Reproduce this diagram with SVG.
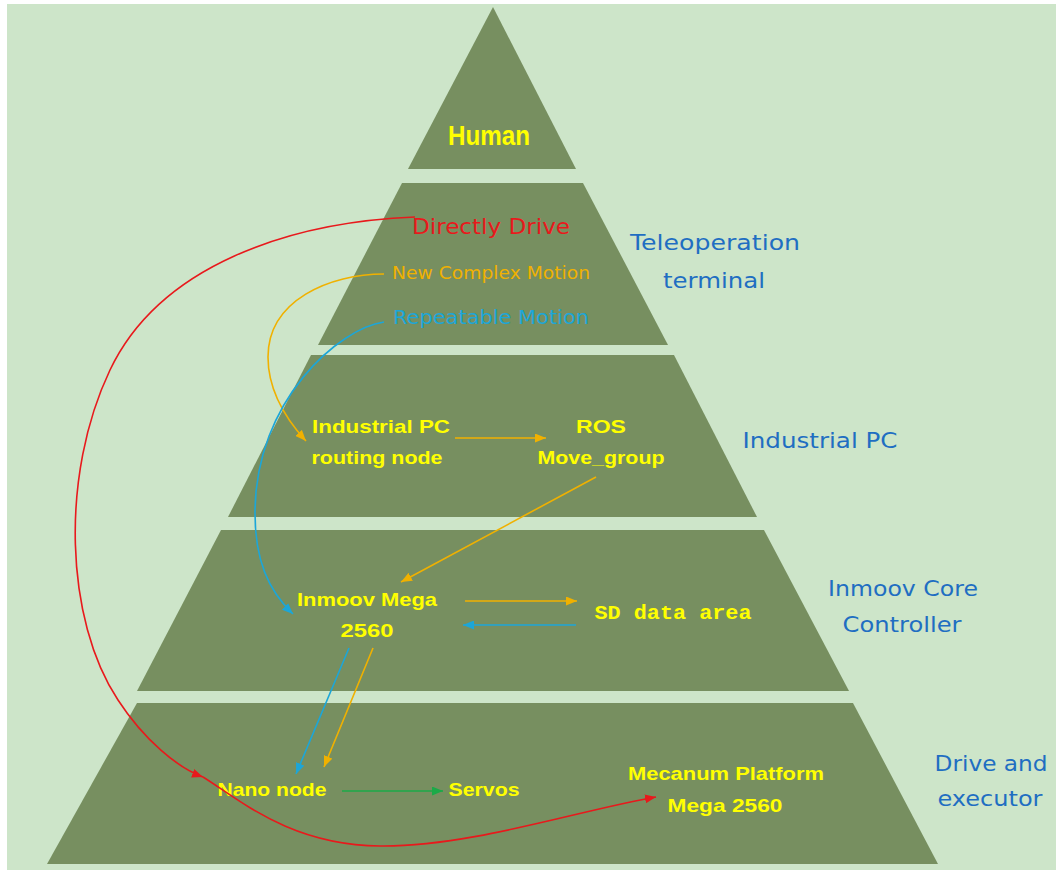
<svg xmlns="http://www.w3.org/2000/svg" width="1056" height="870" viewBox="0 0 1056 870">
<defs>
<style>
.tier{fill:#778F60;}
.lbl{font-family:"Liberation Sans","DejaVu Sans",sans-serif;font-weight:bold;fill:#FFFF00;text-anchor:middle;}
.side{font-family:"DejaVu Sans","Liberation Sans",sans-serif;fill:#1F6EC2;text-anchor:middle;font-size:22px;}
.mono{font-family:"Liberation Mono","DejaVu Sans Mono",monospace;font-weight:bold;fill:#FFFF00;text-anchor:middle;}
.c{fill:none;stroke-width:1.6;}
.red{stroke:#E8191C;}
.org{stroke:#F0B100;}
.blu{stroke:#1CA6D8;}
.grn{stroke:#1BAA48;}
</style>
<marker id="aRed" markerUnits="userSpaceOnUse" markerWidth="11" markerHeight="9" refX="11" refY="4.5" orient="auto"><path d="M0,0 L11,4.5 L0,9 z" fill="#E8191C"/></marker>
<marker id="aOrg" markerUnits="userSpaceOnUse" markerWidth="11" markerHeight="9" refX="11" refY="4.5" orient="auto"><path d="M0,0 L11,4.5 L0,9 z" fill="#F0B100"/></marker>
<marker id="aBlu" markerUnits="userSpaceOnUse" markerWidth="11" markerHeight="9" refX="11" refY="4.5" orient="auto"><path d="M0,0 L11,4.5 L0,9 z" fill="#1CA6D8"/></marker>
<marker id="aGrn" markerUnits="userSpaceOnUse" markerWidth="11" markerHeight="9" refX="11" refY="4.5" orient="auto"><path d="M0,0 L11,4.5 L0,9 z" fill="#1BAA48"/></marker>
</defs>
<rect x="0" y="0" width="1056" height="870" fill="#FFFFFF"/>
<rect x="7" y="4" width="1049" height="866" fill="#CDE5C9"/>

<g id="tier-human">
<polygon class="tier" points="493,7 576,169 408,169"/>
<text class="lbl" x="489" y="145" font-size="28" textLength="82" lengthAdjust="spacingAndGlyphs">Human</text>
</g>

<g id="tier-teleoperation">
<polygon class="tier" points="402,183 583,183 668,345 318,345"/>
<text x="491" y="234" font-family="DejaVu Sans, Liberation Sans, sans-serif" font-size="21" fill="#E8191C" text-anchor="middle" textLength="158" lengthAdjust="spacingAndGlyphs">Directly Drive</text>
<text x="491" y="279" font-family="DejaVu Sans, Liberation Sans, sans-serif" font-size="17" fill="#F0B100" text-anchor="middle" textLength="198" lengthAdjust="spacingAndGlyphs">New Complex Motion</text>
<text x="491" y="324" font-family="DejaVu Sans, Liberation Sans, sans-serif" font-size="19" fill="#1CA6D8" text-anchor="middle" textLength="196" lengthAdjust="spacingAndGlyphs">Repeatable Motion</text>
<text class="side" x="715" y="250" font-size="23" textLength="170" lengthAdjust="spacingAndGlyphs">Teleoperation</text>
<text class="side" x="714" y="288" font-size="23" textLength="102" lengthAdjust="spacingAndGlyphs">terminal</text>
</g>

<g id="tier-industrial-pc">
<polygon class="tier" points="311,355 674,355 757,517 228,517"/>
<text class="lbl" x="381" y="433" font-size="19" textLength="138" lengthAdjust="spacingAndGlyphs">Industrial PC</text>
<text class="lbl" x="377" y="464" font-size="19" textLength="131" lengthAdjust="spacingAndGlyphs">routing node</text>
<text class="lbl" x="601" y="433" font-size="19" textLength="50" lengthAdjust="spacingAndGlyphs">ROS</text>
<text class="lbl" x="601" y="464" font-size="19" textLength="127" lengthAdjust="spacingAndGlyphs">Move_group</text>
<text class="side" x="820" y="448" textLength="155" lengthAdjust="spacingAndGlyphs">Industrial PC</text>
</g>

<g id="tier-inmoov">
<polygon class="tier" points="221,530 764,530 849,691 137,691"/>
<text class="lbl" x="367" y="606" font-size="19" textLength="140" lengthAdjust="spacingAndGlyphs">Inmoov Mega</text>
<text class="lbl" x="367" y="637" font-size="19" textLength="53" lengthAdjust="spacingAndGlyphs">2560</text>
<text class="mono" x="673" y="619" font-size="20" textLength="157" lengthAdjust="spacingAndGlyphs">SD data area</text>
<text class="side" x="903" y="596" textLength="150" lengthAdjust="spacingAndGlyphs">Inmoov Core</text>
<text class="side" x="902" y="632" textLength="119" lengthAdjust="spacingAndGlyphs">Controller</text>
</g>

<g id="tier-drive">
<polygon class="tier" points="137,703 853,703 938,864 47,864"/>
<text class="lbl" x="272" y="796" font-size="19" textLength="109" lengthAdjust="spacingAndGlyphs">Nano node</text>
<text class="lbl" x="484" y="796" font-size="19" textLength="71" lengthAdjust="spacingAndGlyphs">Servos</text>
<text class="lbl" x="726" y="780" font-size="19" textLength="196" lengthAdjust="spacingAndGlyphs">Mecanum Platform</text>
<text class="lbl" x="725" y="812" font-size="19" textLength="115" lengthAdjust="spacingAndGlyphs">Mega 2560</text>
<text class="side" x="991" y="771" font-size="23" textLength="113" lengthAdjust="spacingAndGlyphs">Drive and</text>
<text class="side" x="990" y="806" font-size="23" textLength="105" lengthAdjust="spacingAndGlyphs">executor</text>
</g>

<g id="connectors">
<path class="c red" d="M415,217 C290,222 160,265 110,370 C60,475 65,620 118,700 C144,740 178,768 203,777" marker-end="url(#aRed)"/>
<path class="c red" d="M203,777 C240,800 290,845 380,846 C470,847 580,810 656,797" marker-end="url(#aRed)"/>
<path class="c org" d="M384,274 C330,274 268,300 268,357 C268,390 285,418 306,441" marker-end="url(#aOrg)"/>
<path class="c blu" d="M384,322 C340,328 255,400 255,513 C255,560 268,590 293,614" marker-end="url(#aBlu)"/>
<line class="c org" x1="455" y1="438" x2="546" y2="438" marker-end="url(#aOrg)"/>
<line class="c org" x1="596" y1="477" x2="401" y2="582" marker-end="url(#aOrg)"/>
<line class="c org" x1="465" y1="601" x2="577" y2="601" marker-end="url(#aOrg)"/>
<line class="c blu" x1="576" y1="625" x2="463" y2="625" marker-end="url(#aBlu)"/>
<line class="c blu" x1="349" y1="648" x2="296" y2="774" marker-end="url(#aBlu)"/>
<line class="c org" x1="373" y1="648" x2="324" y2="767" marker-end="url(#aOrg)"/>
<line class="c grn" x1="342" y1="791" x2="443" y2="791" marker-end="url(#aGrn)"/>
</g>
</svg>
